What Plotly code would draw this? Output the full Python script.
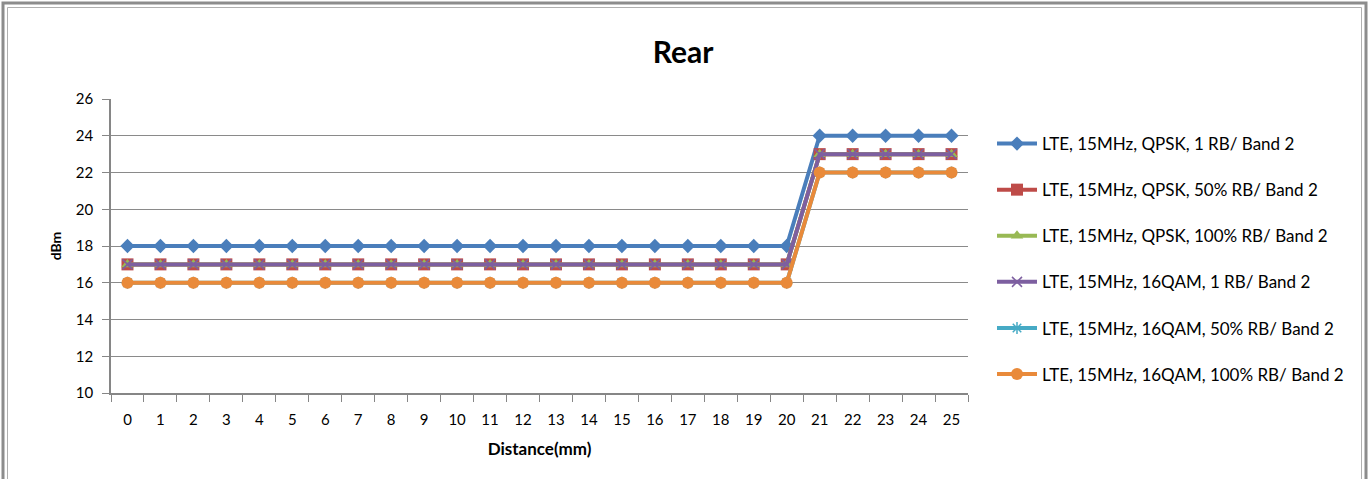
import plotly.graph_objects as go

distance = [str(i) for i in range(26)]
s_qpsk_1rb = [18] * 21 + [24] * 5
s_qpsk_50rb = [17] * 21 + [23] * 5
s_qpsk_100rb = [17] * 21 + [23] * 5
s_16qam_1rb = [17] * 21 + [23] * 5
s_16qam_50rb = [16] * 21 + [22] * 5
s_16qam_100rb = [16] * 21 + [22] * 5

names = [
    "LTE, 15MHz, QPSK, 1 RB/ Band 2",
    "LTE, 15MHz, QPSK, 50% RB/ Band 2",
    "LTE, 15MHz, QPSK, 100% RB/ Band 2",
    "LTE, 15MHz, 16QAM, 1 RB/ Band 2",
    "LTE, 15MHz, 16QAM, 50% RB/ Band 2",
    "LTE, 15MHz, 16QAM, 100% RB/ Band 2",
]
series = [s_qpsk_1rb, s_qpsk_50rb, s_qpsk_100rb, s_16qam_1rb, s_16qam_50rb, s_16qam_100rb]
colors = ["#4A7EBB", "#BE4B48", "#98B954", "#7D5FA0", "#46AAC5", "#E98A3A"]
symbols = ["diamond", "square", "triangle-up", "x-thin-open", "asterisk-open", "circle"]
sizes = [11, 12, 11, 10, 10, 12]

fig = go.Figure()
for i, (n, s) in enumerate(zip(names, series)):
    open_sym = symbols[i].endswith("open")
    fig.add_trace(go.Scatter(
        x=distance, y=s, name=n, mode="lines+markers",
        legendgroup=f"g{i}",
        line=dict(color=colors[i], width=4),
        marker=dict(symbol=symbols[i], size=sizes[i], color=colors[i],
                    line=dict(color=colors[i], width=1.5 if open_sym else 0)),
    ))

W, H = 1369, 479
L, R, T, B = 111, 968, 99, 393
pw, ph = R - L, B - T

def px(x):
    return (x - L) / pw

def py(y):
    return (B - y) / ph

shapes = [
    dict(type="rect", xref="paper", yref="paper", x0=px(3), x1=px(1366), y0=py(3), y1=py(490),
         line=dict(color="#8c8c8c", width=3), layer="below"),
    dict(type="rect", xref="paper", yref="paper", x0=px(7.5), x1=px(1361.5), y0=py(7.5), y1=py(490),
         line=dict(color="#b0b0b0", width=1), layer="below"),
]

fig.update_layout(
    width=W, height=H,
    margin=dict(l=L, r=W - R, t=T, b=H - B),
    paper_bgcolor="white", plot_bgcolor="white",
    font=dict(family="Lato, Open Sans, sans-serif", color="#000000", size=15),
    title=dict(text="<b>Rear</b>", x=(683) / W, xref="container", y=1 - 52 / H, yanchor="middle",
               font=dict(size=30, family="Lato, sans-serif", color="#000000")),
    xaxis=dict(
        type="category", tickson="boundaries", ticks="outside", ticklen=7, tickcolor="#868686",
        showline=True, linecolor="#868686", linewidth=1.5, showgrid=False,
        tickfont=dict(size=15), range=[-0.5, 25.5], ticklabelstandoff=12,
        title=dict(text="<b>Distance(mm)</b>", font=dict(size=17), standoff=16),
    ),
    yaxis=dict(
        range=[10, 26], dtick=2, ticks="outside", ticklen=7, tickcolor="#868686",
        showline=True, linecolor="#868686", linewidth=1.5,
        showgrid=True, gridcolor="#8a8a8a", gridwidth=1,
        tickfont=dict(size=15), zeroline=False, ticklabelstandoff=6,
        title=dict(text="<b>dBm</b>", font=dict(size=14), standoff=11),
    ),
    legend=dict(
        x=px(992), y=py(126), xanchor="left", yanchor="top",
        font=dict(size=17), tracegroupgap=21, itemwidth=40,
        bgcolor="rgba(0,0,0,0)",
    ),
    shapes=shapes,
    showlegend=True,
)

fig.write_html("out.html", config={"displayModeBar": False},
               post_script="document.body.style.margin='0px';document.body.style.padding='0px';")
